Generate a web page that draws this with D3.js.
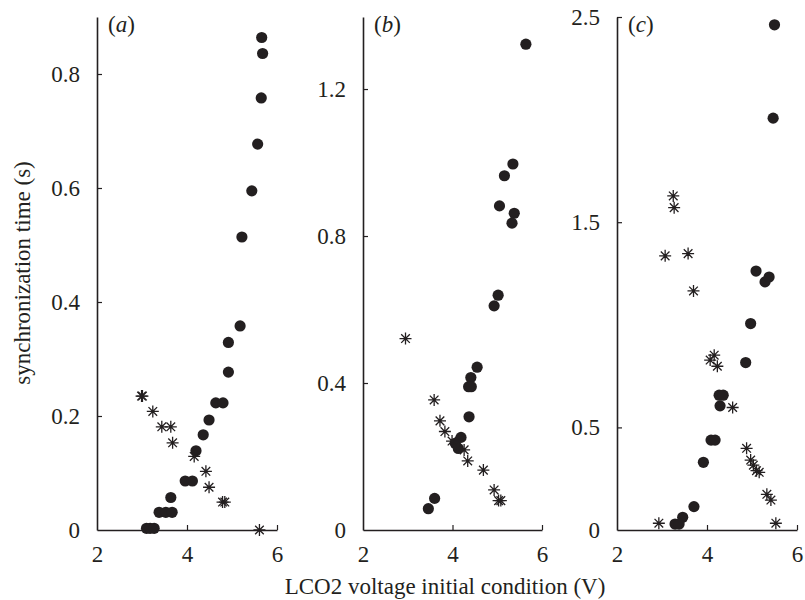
<!DOCTYPE html>
<html>
<head>
<meta charset="utf-8">
<script src="https://cdn.jsdelivr.net/npm/d3@7"></script>
<style>
  body { margin: 0; background: #fff; }
  svg text { font-family: "Liberation Serif", "DejaVu Serif", serif; fill: #231f20; }
</style>
</head>
<body>
<svg id="chart" width="805" height="600"></svg>
<script>
// ---- data ----
const panelNames = ["a", "b", "c"];
const xTicks = [2, 4, 6];

const aCircX = [5.66, 5.68, 5.65, 5.57, 5.44, 5.22, 5.18, 4.92, 4.92, 4.64, 4.80, 4.49, 4.36, 4.20, 3.96, 4.12, 3.64, 3.38, 3.53, 3.67, 3.10, 3.18, 3.27];
const aCircY = [0.864, 0.836, 0.758, 0.677, 0.595, 0.514, 0.358, 0.329, 0.277, 0.223, 0.223, 0.193, 0.167, 0.139, 0.086, 0.086, 0.057, 0.031, 0.031, 0.031, 0.003, 0.003, 0.003];
const aStarX = [2.99, 3.01, 3.24, 3.44, 3.64, 3.68, 4.16, 4.42, 4.49, 4.79, 4.84, 5.61];
const aStarY = [0.235, 0.235, 0.208, 0.181, 0.181, 0.153, 0.129, 0.103, 0.075, 0.049, 0.049, 0.0];
const aYTicks = [0, 0.2, 0.4, 0.6, 0.8];
const aYMax = 0.9;

const bCircX = [5.64, 5.35, 5.16, 5.05, 5.38, 5.33, 5.02, 4.93, 4.55, 4.41, 4.36, 4.42, 4.37, 4.19, 4.06, 4.13, 3.60, 3.46];
const bCircY = [1.322, 0.996, 0.964, 0.882, 0.862, 0.835, 0.639, 0.610, 0.443, 0.415, 0.390, 0.390, 0.308, 0.252, 0.236, 0.222, 0.086, 0.058];
const bStarX = [2.95, 3.59, 3.72, 3.83, 3.99, 4.26, 4.34, 4.69, 4.93, 5.03, 5.08];
const bStarY = [0.521, 0.354, 0.297, 0.268, 0.242, 0.218, 0.188, 0.163, 0.109, 0.080, 0.080];
const bYTicks = [0, 0.4, 0.8, 1.2];
const bYMax = 1.396;

const cCircX = [5.50, 5.47, 5.09, 5.29, 5.38, 4.97, 4.86, 4.27, 4.36, 4.29, 4.09, 4.18, 3.92, 3.71, 3.46, 3.29, 3.38];
const cCircY = [2.462, 2.007, 1.262, 1.209, 1.233, 1.006, 0.816, 0.657, 0.657, 0.605, 0.438, 0.438, 0.330, 0.114, 0.062, 0.029, 0.029];
const cStarX = [3.25, 3.27, 3.07, 3.58, 3.70, 4.16, 4.07, 4.23, 4.57, 4.88, 4.97, 5.03, 5.10, 5.16, 5.33, 5.42, 2.93, 5.53];
const cStarY = [1.628, 1.571, 1.336, 1.347, 1.165, 0.852, 0.828, 0.798, 0.597, 0.398, 0.341, 0.316, 0.289, 0.281, 0.174, 0.146, 0.033, 0.033];
const cYTicks = [0, 0.5, 1.5, 2.5];
const cYMax = 2.5;

const xTitle = "LCO2 voltage initial condition (V)";
const yTitle = "synchronization time (s)";

// ---- layout ----
const svg = d3.select("#chart");
const yBottom = 530, yTop = 17;
const panels = [
  { name: "a", left: 97, right: 277, cx: aCircX, cy: aCircY, sx: aStarX, sy: aStarY, ticks: aYTicks, ymax: aYMax, fmt: d => d === 0 ? "0" : d3.format(".1f")(d) },
  { name: "b", left: 363, right: 542, cx: bCircX, cy: bCircY, sx: bStarX, sy: bStarY, ticks: bYTicks, ymax: bYMax, fmt: d => d === 0 ? "0" : d3.format(".1f")(d) },
  { name: "c", left: 617, right: 797, cx: cCircX, cy: cCircY, sx: cStarX, sy: cStarY, ticks: cYTicks, ymax: cYMax, fmt: d => d === 0 ? "0" : d3.format(".1f")(d) }
];

const ink = "#231f20";
const fontSize = 23;

panels.forEach(p => {
  const x = d3.scaleLinear().domain([2, 6]).range([p.left, p.right]);
  const y = d3.scaleLinear().domain([0, p.ymax]).range([yBottom, yTop]);
  const g = svg.append("g");

  const xAxis = d3.axisBottom(x).tickValues(xTicks).tickSizeInner(-5).tickSizeOuter(0).tickPadding(16).tickFormat(d3.format("d"));
  const gx = g.append("g").attr("transform", `translate(0,${yBottom})`).call(xAxis);
  const yAxis = d3.axisLeft(y).tickValues(p.ticks).tickSizeInner(-5).tickSizeOuter(0).tickPadding(17).tickFormat(p.fmt);
  const gy = g.append("g").attr("transform", `translate(${p.left},0)`).call(yAxis);

  [gx, gy].forEach(a => {
    a.select(".domain").attr("stroke", ink).attr("stroke-width", 1.6);
    a.selectAll(".tick line").attr("stroke", ink).attr("stroke-width", 1.2);
    a.selectAll(".tick text").attr("font-family", "Liberation Serif").attr("font-size", fontSize).attr("fill", ink);
  });
  // hide the x tick at origin (coincides with y axis)
  gx.selectAll(".tick").filter(d => d === 2).select("line").remove();
  gy.selectAll(".tick").filter(d => d === 0).select("line").remove();

  // circles
  g.append("g").selectAll("circle").data(d3.zip(p.cx, p.cy)).join("circle")
    .attr("cx", d => x(d[0])).attr("cy", d => y(d[1])).attr("r", 5.6).attr("fill", ink);

  // asterisks
  const s = 6;
  const star = `M0,${-s}V${s}M${-s},0H${s}M${-s*0.72},${-s*0.72}L${s*0.72},${s*0.72}M${-s*0.72},${s*0.72}L${s*0.72},${-s*0.72}`;
  g.append("g").selectAll("path").data(d3.zip(p.sx, p.sy)).join("path")
    .attr("transform", d => `translate(${x(d[0])},${y(d[1])})`)
    .attr("d", star).attr("stroke", ink).attr("stroke-width", 1.3).attr("fill", "none");

  // panel label
  const lab = g.append("text").attr("x", p.left + 11).attr("y", 32).attr("font-size", fontSize);
  lab.append("tspan").text("(");
  lab.append("tspan").attr("font-style", "italic").text(p.name);
  lab.append("tspan").text(")");
});

svg.append("text").attr("x", 445).attr("y", 594).attr("text-anchor", "middle")
  .attr("font-size", fontSize).text(xTitle);
svg.append("text").attr("transform", "translate(30,273) rotate(-90)").attr("text-anchor", "middle")
  .attr("font-size", fontSize).text(yTitle);
</script>
</body>
</html>
